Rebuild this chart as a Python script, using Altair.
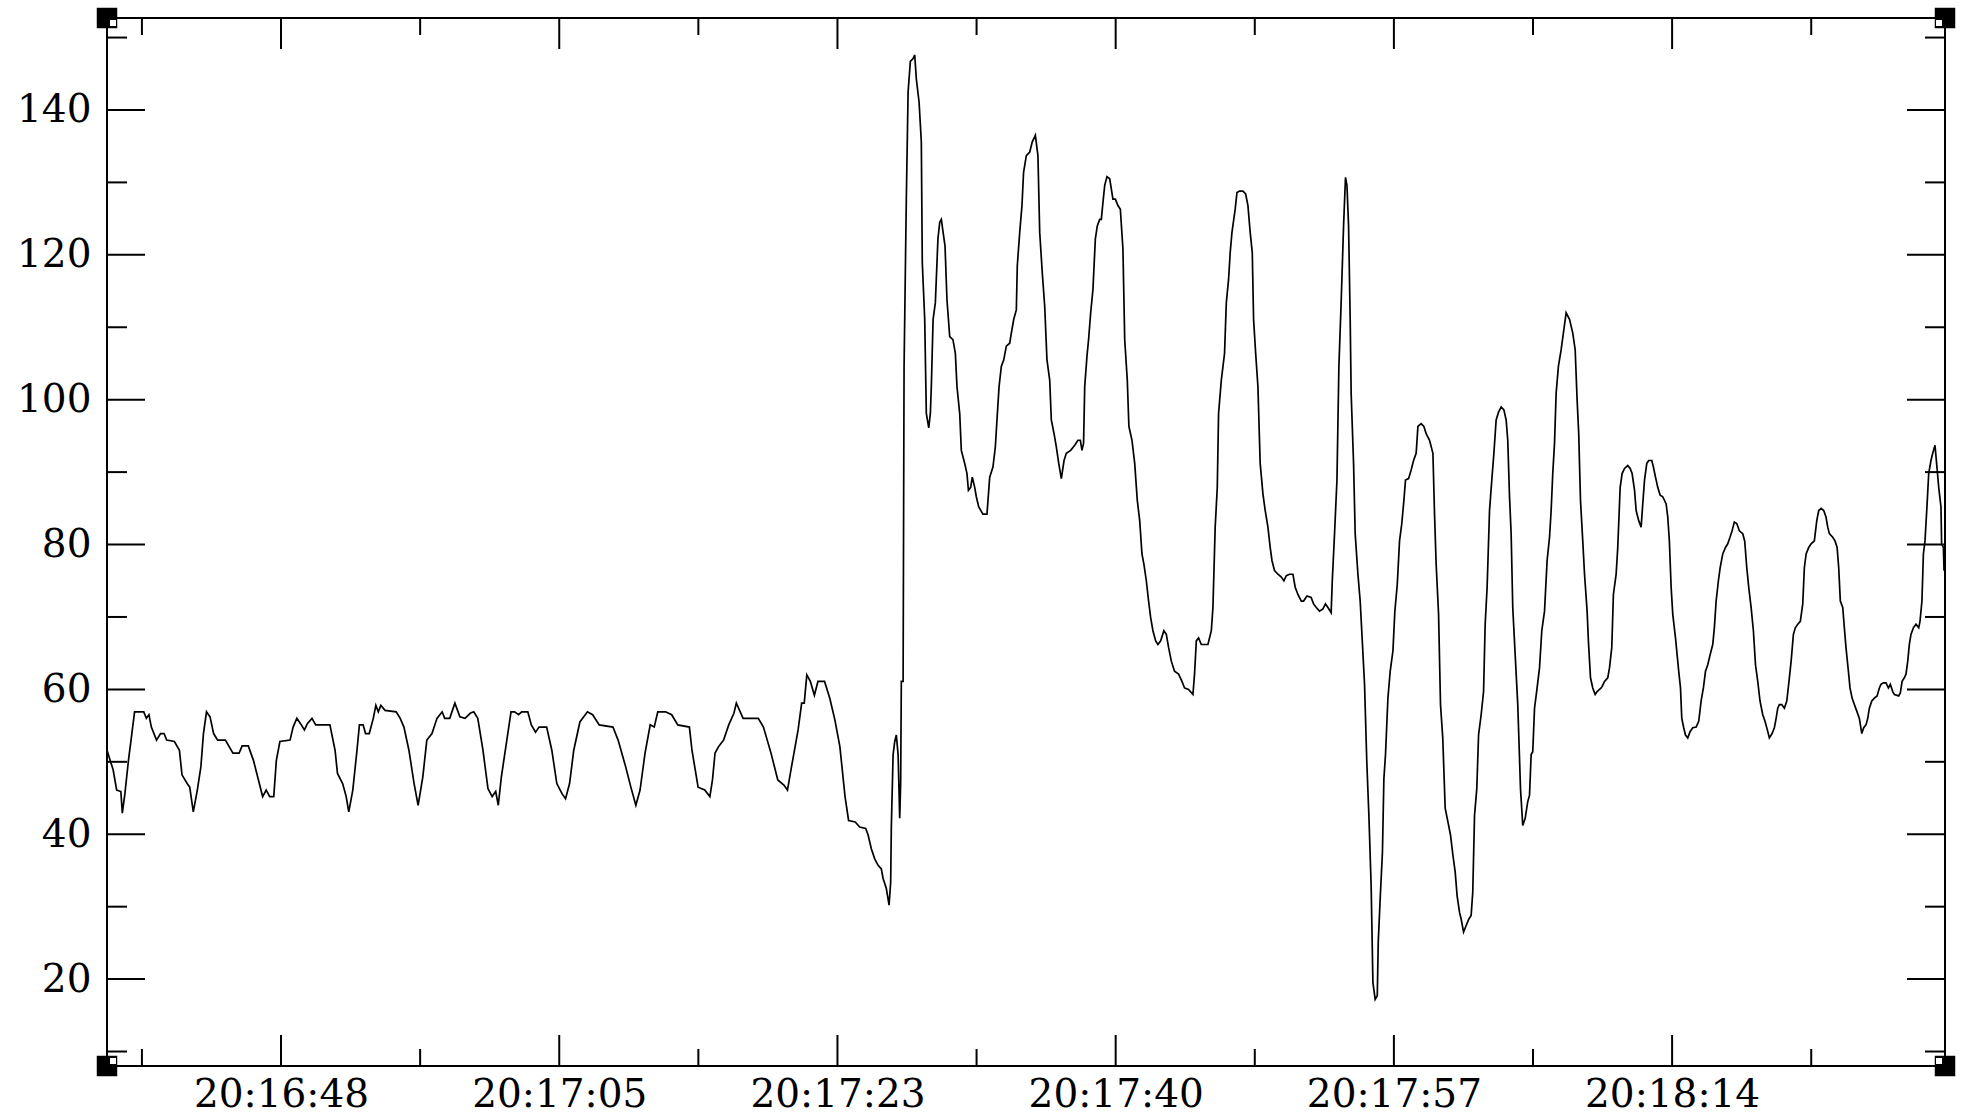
import altair as alt
import pandas as pd

# ---- data: (seconds after 20:16:48, value) ----
trace_1 = [[-10.79,51.6],[-10.41,48.9],[-10.19,46.1],[-9.93,45.9],[-9.84,42.9],[-9.68,45.6],[-9.46,50.2],[-9.30,53.0],[-9.08,56.9],[-8.51,56.9],[-8.35,56.0],[-8.19,56.5],[-8.04,54.8],[-7.72,53.0],[-7.47,53.9],[-7.25,53.9],[-7.09,53.0],[-6.61,52.8],[-6.30,51.6],[-6.14,48.2],[-5.82,47.0],[-5.66,46.5],[-5.44,43.1],[-5.19,46.1],[-4.97,49.3],[-4.81,53.9],[-4.62,56.9],[-4.40,56.2],[-4.18,53.9],[-3.93,53.0],[-3.45,53.0],[-2.98,51.2],[-2.60,51.2],[-2.41,52.2],[-2.03,52.2],[-1.71,50.2],[-1.40,47.5],[-1.14,45.2],[-0.92,46.1],[-0.70,45.2],[-0.45,45.2],[-0.29,50.2],[-0.07,52.8],[0.56,53.0],[0.75,54.8],[0.98,56.0],[1.20,55.3],[1.45,54.4],[1.64,55.3],[1.92,56.0],[2.15,55.1],[3.03,55.1],[3.35,51.6],[3.50,48.4],[3.82,47.0],[4.04,45.2],[4.20,43.1],[4.45,46.1],[4.71,51.6],[4.86,55.1],[5.09,55.1],[5.24,53.9],[5.47,53.9],[5.72,56.0],[5.88,57.8],[6.03,56.9],[6.19,57.8],[6.45,57.1],[7.14,56.9],[7.39,56.0],[7.62,54.8],[7.93,51.6],[8.25,47.0],[8.50,44.0],[8.79,47.9],[9.04,53.0],[9.36,53.9],[9.67,56.0],[9.99,56.9],[10.15,56.0],[10.46,56.0],[10.78,58.1],[11.09,56.2],[11.41,56.0],[11.73,56.7],[11.95,56.9],[12.20,56.0],[12.52,51.6],[12.83,46.3],[13.09,45.2],[13.31,45.9],[13.47,44.0],[13.66,47.9],[13.94,52.1],[14.26,56.9],[14.48,56.9],[14.73,56.5],[14.92,56.9],[15.30,56.9],[15.52,55.1],[15.78,54.1],[16.00,54.8],[16.47,54.8],[16.79,51.6],[17.10,47.0],[17.42,45.6],[17.64,44.9],[17.89,47.0],[18.15,51.6],[18.53,55.5],[19.00,56.9],[19.32,56.5],[19.73,55.1],[20.58,54.8],[20.90,53.0],[21.37,49.3],[21.69,46.5],[22.00,44.0],[22.26,46.1],[22.57,51.2],[22.89,55.1],[23.14,54.8],[23.36,56.9],[23.84,56.9],[24.22,56.5],[24.60,55.1],[25.32,54.8],[25.48,51.6],[25.86,46.5],[26.27,46.1],[26.59,45.2],[26.75,47.5],[26.91,51.2],[27.13,52.1],[27.44,53.0],[27.76,55.1],[28.08,56.7],[28.23,58.1],[28.65,56.0],[29.59,56.0],[29.91,54.8],[30.38,51.2],[30.80,47.5],[31.18,46.8],[31.40,46.1],[31.65,49.3],[32.06,54.4],[32.28,58.1],[32.44,58.1],[32.60,62.0],[32.82,61.1],[33.07,59.2],[33.29,61.1],[33.70,61.1],[34.02,58.8],[34.34,55.8],[34.65,52.1],[34.97,45.2],[35.19,41.9],[35.60,41.7]]

trace_2 = [[35.88,41.0],[36.25,40.8],[36.40,39.9],[36.60,38.0],[36.81,36.6],[37.02,35.7],[37.22,35.2],[37.33,33.9],[37.53,32.5],[37.70,30.2],[37.80,33.4],[37.84,41.0],[37.95,51.0],[38.05,52.8],[38.15,53.7],[38.26,51.0],[38.36,42.2],[38.42,47.3],[38.46,61.1],[38.57,61.1],[38.63,104.6],[38.77,127.7],[38.88,142.5],[39.02,146.7],[39.19,147.1],[39.29,147.6],[39.39,144.3],[39.56,141.1],[39.70,135.6],[39.76,118.9],[39.91,111.1],[40.01,98.1],[40.16,96.1],[40.26,98.1],[40.32,101.8],[40.43,111.1],[40.57,113.4],[40.73,122.2],[40.84,124.5],[40.94,124.9],[41.05,123.1],[41.17,121.2],[41.29,113.8],[41.46,108.7],[41.66,108.3],[41.81,106.4],[41.91,101.8],[42.08,98.1],[42.18,93.0],[42.39,91.2],[42.53,89.8],[42.62,87.5],[42.76,87.9],[42.86,89.3],[43.01,87.9],[43.11,86.6],[43.26,85.2],[43.52,84.2],[43.77,84.2],[43.94,89.3],[44.14,90.7],[44.29,93.5],[44.39,97.2],[44.52,101.8],[44.66,104.6],[44.81,105.5],[44.97,107.4],[45.18,107.8],[45.28,109.2],[45.43,111.1],[45.59,112.4],[45.65,118.5],[45.80,123.1],[45.94,126.8],[46.04,131.4],[46.21,133.7],[46.42,134.2],[46.58,135.6],[46.77,136.5],[46.93,133.7],[47.04,123.1],[47.20,117.5],[47.35,112.9],[47.49,105.5]]

trace_3 = [[47.66,102.7],[47.76,97.2],[47.93,95.3],[48.07,93.5],[48.22,91.2],[48.38,89.1],[48.55,91.6],[48.69,92.6],[48.96,93.0],[49.21,93.7],[49.41,94.4],[49.56,94.4],[49.66,93.0],[49.76,94.0],[49.83,101.8],[49.97,106.0],[50.07,108.3],[50.20,112.0],[50.34,115.2],[50.49,122.2],[50.61,124.0],[50.76,124.9],[50.86,124.9],[50.96,127.2],[51.07,129.6],[51.21,130.8],[51.38,130.5],[51.48,129.1],[51.58,127.7],[51.73,127.7],[51.89,126.8],[52.04,126.3],[52.20,120.8],[52.31,108.3],[52.47,102.7],[52.57,96.3],[52.76,94.4],[52.93,91.2],[53.09,86.1],[53.24,83.3],[53.38,78.7],[53.50,77.3],[53.65,75.0],[53.79,72.2],[53.92,69.9],[54.06,68.1],[54.23,66.7],[54.37,66.2],[54.54,66.7],[54.74,68.1],[54.89,67.6],[55.03,65.8],[55.20,63.9],[55.40,62.5],[55.65,62.1],[55.86,61.1],[56.02,60.2],[56.27,60.0],[56.54,59.3],[56.64,62.1],[56.75,66.7],[56.89,67.1],[57.06,66.2],[57.47,66.2],[57.68,68.1],[57.78,71.3],[57.92,82.4],[58.05,87.9],[58.13,98.1],[58.30,102.7],[58.50,106.4],[58.61,113.4],[58.75,116.6],[58.85,120.3],[58.96,123.1]]

trace_4 = [[59.16,126.3],[59.27,128.6],[59.43,128.8],[59.64,128.8],[59.81,128.4],[59.95,126.8],[60.09,123.1],[60.22,120.3],[60.30,111.1],[60.43,106.4],[60.57,101.8],[60.71,91.2],[60.88,87.0],[61.02,84.7],[61.19,82.4],[61.33,79.6],[61.44,77.8],[61.60,76.4],[61.81,75.9],[62.02,75.5],[62.18,75.0],[62.33,75.7],[62.53,75.9],[62.74,75.9],[62.88,74.1],[63.05,73.1],[63.26,72.2],[63.40,72.2],[63.61,72.9],[63.87,72.7],[64.02,71.8],[64.19,71.3],[64.39,70.8],[64.60,71.1],[64.76,71.8],[64.91,71.3],[65.11,70.6],[65.18,75.0],[65.32,81.5],[65.47,88.9],[65.59,104.6],[65.73,113.4],[65.88,124.0],[66.00,130.7],[66.09,129.6],[66.19,124.0],[66.29,111.1],[66.35,100.9],[66.50,91.2],[66.60,81.5],[66.77,75.9],[66.91,72.2],[67.04,66.7],[67.18,60.7],[67.32,50.0],[67.45,42.6],[67.59,32.9],[67.70,19.5],[67.84,17.2],[67.97,17.7],[68.03,25.1],[68.15,31.1],[68.29,37.5],[68.38,47.7],[68.48,51.0],[68.63,58.8],[68.77,62.5],[68.94,65.3],[69.06,70.8],[69.21,74.5],[69.35,80.5],[69.49,82.9],[69.62,86.1],[69.72,88.9],[69.91,89.1],[70.07,90.3],[70.22,91.6],[70.38,92.6]]

trace_5 = [[70.49,96.3],[70.69,96.7],[70.86,96.3],[71.00,95.3],[71.21,94.4],[71.42,92.6],[71.52,84.2],[71.62,77.3],[71.77,70.4],[71.89,57.9],[72.03,53.3],[72.18,43.6],[72.35,41.7],[72.51,39.9],[72.66,37.1],[72.80,34.8],[72.92,31.5],[73.07,29.2],[73.17,28.3],[73.32,26.5],[73.48,27.4],[73.65,28.3],[73.79,28.8],[73.89,32.0],[74.00,42.6],[74.14,46.3],[74.25,53.7],[74.41,56.5],[74.56,59.7],[74.66,69.0],[74.78,74.1],[74.93,84.7],[75.07,88.9],[75.20,92.6],[75.34,97.2],[75.49,98.3],[75.65,99.0],[75.82,98.6],[75.96,97.2],[76.06,94.4],[76.17,86.6],[76.27,81.5],[76.37,71.3],[76.52,64.8],[76.68,57.9],[76.85,46.3],[76.99,41.2],[77.14,42.2],[77.30,44.5],[77.41,45.4],[77.51,51.0],[77.61,51.4],[77.72,57.4],[77.88,60.2],[78.03,63.0],[78.17,68.1],[78.34,70.8],[78.50,77.8],[78.65,81.0],[78.75,84.7],[78.85,89.8],[78.96,94.0],[79.06,100.9],[79.20,104.6],[79.37,106.9],[79.54,109.7],[79.68,112.0],[79.89,111.1],[80.09,109.2],[80.24,106.9],[80.36,100.0],[80.46,95.3],[80.57,86.1],[80.71,80.5],[80.82,75.9],[80.98,70.8],[81.06,66.7],[81.19,61.6],[81.33,60.2],[81.48,59.3],[81.60,59.7],[81.85,60.2]]

trace_6 = [[81.91,60.4],[82.06,61.1],[82.26,61.6],[82.37,63.0],[82.51,65.8],[82.61,73.1],[82.78,75.9],[82.88,79.6],[83.03,87.9],[83.15,89.8],[83.30,90.5],[83.50,90.9],[83.65,90.5],[83.77,89.8],[83.92,87.5],[84.02,84.7],[84.18,83.3],[84.33,82.4],[84.43,85.6],[84.54,88.9],[84.68,91.2],[84.80,91.6],[84.99,91.6],[85.09,90.7],[85.22,89.3],[85.36,87.9],[85.51,86.8],[85.67,86.6],[85.88,85.6],[85.98,83.8],[86.08,80.5],[86.19,74.1],[86.29,70.4],[86.46,67.1],[86.56,64.8],[86.66,62.5],[86.77,60.2],[86.85,56.0],[86.97,54.7],[87.08,53.7],[87.22,53.3],[87.37,54.2],[87.53,54.7],[87.74,54.8],[87.90,55.6],[88.05,58.4],[88.19,60.2],[88.32,62.5],[88.46,63.4],[88.61,64.8],[88.77,66.2],[88.87,68.5],[88.98,72.2],[89.12,75.0],[89.23,76.8],[89.39,78.7],[89.56,79.6],[89.70,80.1],[89.84,81.0],[89.97,81.9],[90.11,83.1],[90.26,82.9],[90.42,81.9],[90.63,81.5],[90.75,80.5],[90.88,76.8],[91.00,74.1],[91.15,71.3],[91.29,68.1],[91.42,63.4],[91.56,61.1],[91.70,58.4],[91.87,56.5],[92.01,55.6],[92.18,54.2],[92.28,53.3],[92.45,53.9],[92.59,54.7],[92.70,56.0],[92.80,57.4],[92.90,57.9],[93.05,57.9]]

trace_7 = [[93.21,57.4],[93.36,58.4],[93.52,61.6],[93.63,63.9],[93.77,67.6],[93.89,68.5],[94.04,69.0],[94.20,69.4],[94.35,71.8],[94.45,76.8],[94.56,78.7],[94.72,79.6],[94.87,80.1],[95.07,80.5],[95.22,83.3],[95.34,84.7],[95.49,85.0],[95.65,84.7],[95.79,83.8],[95.90,82.4],[96.00,81.5],[96.21,81.0],[96.35,80.5],[96.48,79.6],[96.58,76.8],[96.68,72.2],[96.83,71.3],[96.93,68.5],[97.03,65.8],[97.18,62.5],[97.28,60.2],[97.41,58.8],[97.55,57.9],[97.70,57.0],[97.86,56.0],[98.01,53.9],[98.13,54.7],[98.27,55.1],[98.38,56.0],[98.48,57.4],[98.63,58.4],[98.79,58.8],[98.96,59.1],[99.10,60.2],[99.20,60.7],[99.35,60.9],[99.51,60.9],[99.66,60.2],[99.78,60.7],[99.93,59.7],[100.03,59.3],[100.30,59.1],[100.40,59.5],[100.51,61.1],[100.65,61.6],[100.75,62.1],[100.86,63.9],[100.96,66.2],[101.06,67.6],[101.21,68.5],[101.37,69.0],[101.54,68.5],[101.62,69.4],[101.74,72.2],[101.83,78.7],[101.93,80.5],[102.05,85.2],[102.16,89.8],[102.30,91.6],[102.41,92.6],[102.55,93.7],[102.65,91.2],[102.78,87.9],[102.92,85.2],[102.96,80.1],[103.07,79.6],[103.11,76.4]]

x_major_ticks = [0, 17.25, 34.5, 51.75, 69, 86.25]
x_major_labels = ["20:16:48", "20:17:05", "20:17:23", "20:17:40", "20:17:57", "20:18:14"]
x_minor_ticks = [-8.625, 8.625, 25.875, 43.125, 60.375, 77.625, 94.875]
y_major_ticks = [20, 40, 60, 80, 100, 120, 140]
y_minor_ticks = [10, 30, 50, 70, 90, 110, 130, 150]
x_domain = [-10.79, 103.17]
y_domain = [8.0, 152.7]

# ---- layout / style ----
W, H = 1838, 1048
FONT = "DejaVu Serif"
FS = 39
INK = "black"

rows = [{"t": t, "v": v}
        for seg in (trace_1, trace_2, trace_3, trace_4, trace_5, trace_6, trace_7)
        for t, v in seg]
df = pd.DataFrame(rows)

xs = alt.Scale(domain=x_domain, nice=False, zero=False)
ys = alt.Scale(domain=y_domain, nice=False, zero=False)

expr = "''"
for val, lab in reversed(list(zip(x_major_ticks, x_major_labels))):
    expr = f"abs(datum.value - {val}) < 0.01 ? '{lab}' : ({expr})"

x_axis = alt.Axis(values=x_major_ticks, labelExpr=expr, ticks=False, tickSize=0,
                  domain=False, grid=False, labelFont=FONT, labelFontSize=FS,
                  labelColor=INK, labelPadding=9, title=None,
                  labelFlush=False, labelOverlap=False)
y_axis = alt.Axis(values=y_major_ticks, format="d", ticks=False, tickSize=0,
                  domain=False, grid=False, labelFont=FONT, labelFontSize=FS,
                  labelColor=INK, labelPadding=16, title=None, labelOverlap=False)

def X():
    return alt.X("t:Q", scale=xs, axis=x_axis, title=None)

def Y():
    return alt.Y("v:Q", scale=ys, axis=y_axis, title=None)

line = alt.Chart(df).mark_line(color=INK, strokeWidth=1.7, clip=True).encode(x=X(), y=Y())

layers = [line]

def xtick_layers(vals, length):
    d = pd.DataFrame({"t": vals})
    base = alt.Chart(d).mark_rule(color=INK, strokeWidth=2)
    return [
        base.encode(x=X(), y=alt.value(H), y2=alt.value(H - length)),
        base.encode(x=X(), y=alt.value(0), y2=alt.value(length)),
    ]

def ytick_layers(vals, length):
    d = pd.DataFrame({"v": vals})
    base = alt.Chart(d).mark_rule(color=INK, strokeWidth=2)
    return [
        base.encode(y=Y(), x=alt.value(0), x2=alt.value(length)),
        base.encode(y=Y(), x=alt.value(W), x2=alt.value(W - length)),
    ]

layers += xtick_layers(x_major_ticks, 31)
layers += xtick_layers(x_minor_ticks, 17)
layers += ytick_layers(y_major_ticks, 38)
layers += ytick_layers(y_minor_ticks, 20)

# corner handles
corners = [
    (x_domain[0], y_domain[1], 6, 5),
    (x_domain[1], y_domain[1], -6, 5),
    (x_domain[0], y_domain[0], 6, -5),
    (x_domain[1], y_domain[0], -6, -5),
]
for cx, cy, ox, oy in corners:
    d = pd.DataFrame({"t": [cx], "v": [cy]})
    layers.append(alt.Chart(d).mark_square(size=420, color=INK, opacity=1).encode(x=X(), y=Y()))
    layers.append(alt.Chart(d).mark_square(size=49, fill="white", stroke=INK,
                                           strokeWidth=1, opacity=1,
                                           xOffset=ox, yOffset=oy).encode(x=X(), y=Y()))

chart = alt.layer(*layers).properties(
    width=W, height=H,
    autosize=alt.AutoSizeParams(type="none"),
    padding={"left": 107, "top": 18, "right": 26, "bottom": 48},
    background="white",
).configure_view(stroke=INK, strokeWidth=2)

chart.save("out.html", embed_options={"renderer": "svg", "actions": False})
